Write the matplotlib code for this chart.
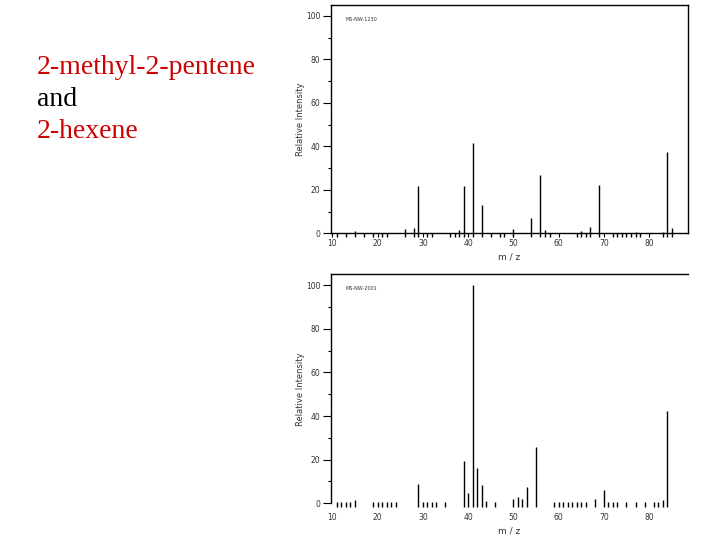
import matplotlib
matplotlib.use("Agg")
import matplotlib.pyplot as plt

# top spectrum: 2-methyl-2-pentene
top_mz = [15, 26, 28, 29, 38, 39, 41, 43, 50, 54, 56, 57, 65, 67, 69, 77, 83, 84, 85,
          11, 13, 17, 19, 21, 22, 31, 32, 36, 37, 45, 47, 48, 58, 64, 66,
          72, 73, 74, 75, 76, 78]
top_int = [1.2, 2.1, 2.6, 22, 1.5, 22, 41.5, 13.3, 2, 7, 27, 1.5, 1, 3, 22.4, 0.6, 0.6, 37.6, 2.4,
           0.3, 0.3, 0.3, 0.3, 0.3, 0.3, 0.3, 0.3, 0.3, 0.3, 0.3, 0.3, 0.3, 0.3, 0.3, 0.3,
           0.3, 0.3, 0.3, 0.3, 0.3, 0.3]

# bottom spectrum: 2-hexene
bot_mz = [15, 29, 39, 40, 41, 42, 43, 44, 46, 50, 51, 52, 53, 55, 68, 70, 83, 84,
          11, 12, 13, 14, 19, 20, 21, 22, 23, 24, 30, 31, 32, 33, 35,
          59, 60, 61, 62, 63, 64, 65, 66, 71, 72, 73, 75, 77, 79, 81, 82]
bot_int = [1.5, 8.8, 19.2, 4.8, 100, 16, 8.3, 1.2, 0.8, 2, 3, 2, 7.4, 26, 2, 6, 1.5, 42.4,
           0.8, 0.8, 0.8, 0.8, 0.8, 0.8, 0.8, 0.8, 0.8, 0.8, 0.8, 0.8, 0.8, 0.8, 0.8,
           0.8, 0.8, 0.8, 0.8, 0.8, 0.8, 0.8, 0.8, 0.8, 0.8, 0.8, 0.8, 0.8, 0.8, 0.8, 0.8]

x_ticks = [10, 20, 30, 40, 50, 60, 70, 80]
y_ticks = [0, 20, 40, 60, 80, 100]
y_minor = [10, 30, 50, 70, 90]
tags = ["MS-NW-1230", "MS-NW-2001"]

fig = plt.figure(figsize=(7.2, 5.4), dpi=100)

# caption on the left
red = "#cc0000"
fig.text(37 / 720, 1 - 68 / 540, "2-methyl-2-pentene", color=red,
         family="Liberation Serif", fontsize=20, va="center")
fig.text(37 / 720, 1 - 100 / 540, "and", color="black",
         family="Liberation Serif", fontsize=20, va="center")
fig.text(37 / 720, 1 - 132 / 540, "2-hexene", color=red,
         family="Liberation Serif", fontsize=20, va="center")

ax1 = fig.add_axes([331 / 720, 1 - 233.5 / 540, 357 / 720, 228.5 / 540])
ax2 = fig.add_axes([331 / 720, 1 - 503.3 / 540, 357 / 720, 229 / 540])

for ax, mz, inten, tag in [(ax1, top_mz, top_int, tags[0]), (ax2, bot_mz, bot_int, tags[1])]:
    ax.vlines(mz, -1.8, inten, color="black", lw=1.0, clip_on=False)
    ax.set_xlim(9.7, 88.6)
    ax.set_ylim(0, 105)
    ax.set_xticks(x_ticks)
    ax.set_yticks(y_ticks)
    ax.set_yticks(y_minor, minor=True)
    ax.tick_params(axis="y", which="major", length=5.5, width=0.8, labelsize=5.5,
                   labelcolor="#333333", pad=2)
    ax.tick_params(axis="y", which="minor", length=2.5, width=0.8)
    ax.tick_params(axis="x", length=3, width=0.8, labelsize=5.5, labelcolor="#333333", pad=1)
    ax.set_xlabel("m / z", fontsize=6.5, color="#333333", labelpad=3)
    ax.set_ylabel("Relative Intensity", fontsize=6, color="#333333", labelpad=1)
    ax.text(0.04, 0.93, tag, transform=ax.transAxes, fontsize=3.5, color="#333333")
    for s in ax.spines.values():
        s.set_linewidth(1.0)

# lower spectrum has no bottom/right frame in the scan
ax2.spines["bottom"].set_visible(False)
ax2.spines["right"].set_visible(False)
ax2.tick_params(axis="x", length=0, pad=7)

fig.savefig("out.png", dpi=100)
